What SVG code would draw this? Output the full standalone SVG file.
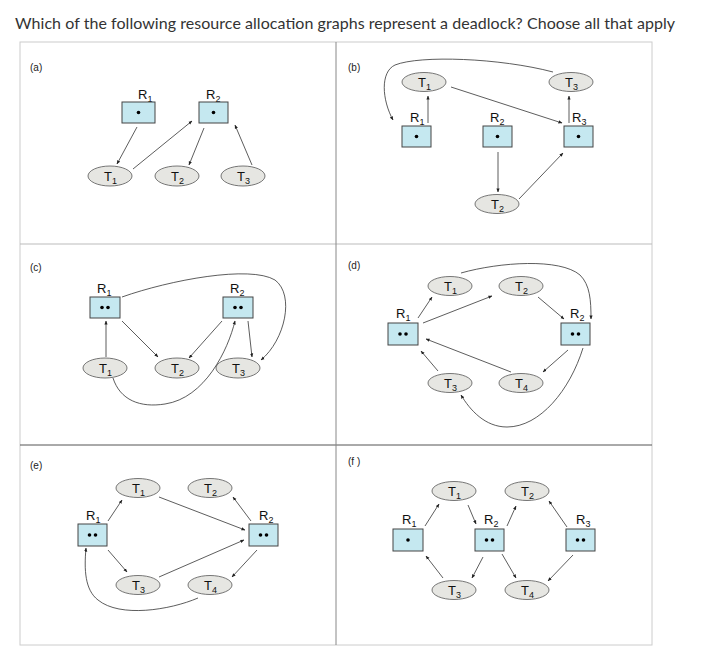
<svg xmlns="http://www.w3.org/2000/svg" width="723" height="657" viewBox="0 0 723 657">
<style>
.t{font-family:Lato,"Liberation Sans",sans-serif;fill:#333}
.p{font-family:"Liberation Sans",sans-serif;font-size:10px;fill:#222}
.l{font-family:"Liberation Sans",sans-serif;font-size:13px;fill:#111}
.s{font-size:9px}
.e{fill:#e6e6e2;stroke:#555;stroke-width:0.8}
.r{fill:#c5e8f0;stroke:#444;stroke-width:1}
.c path,.c line{fill:none;stroke:#333;stroke-width:0.8;marker-end:url(#a)}
</style>
<defs><marker id="a" viewBox="0 0 10 10" refX="9" refY="5" markerWidth="5" markerHeight="5" orient="auto"><path d="M0,1 L10,5 L0,9 z" fill="#222"/></marker></defs>
<rect width="723" height="657" fill="#fff"/>
<text class="t" x="15" y="29" font-size="16" textLength="660">Which of the following resource allocation graphs represent a deadlock?  Choose all that apply</text>
<g id="frame" fill="none">
<rect x="20" y="42" width="632" height="603" stroke="#ccc"/>
<line x1="20" y1="244" x2="652" y2="244" stroke="#bbb"/>
<line x1="20" y1="445" x2="652" y2="445" stroke="#555"/>
<line x1="336" y1="42" x2="336" y2="645" stroke="#888"/>
</g>
<g id="labels">
<text class="p" x="30" y="71">(a)</text><text class="p" x="348" y="71">(b)</text>
<text class="p" x="30" y="271">(c)</text><text class="p" x="348" y="269">(d)</text>
<text class="p" x="30" y="469">(e)</text><text class="p" x="348" y="465">(f )</text>
</g>
<!-- (a) -->
<g id="a_R1"><text class="l" x="138" y="99">R<tspan class="s" dy="3">1</tspan></text><rect class="r" x="122" y="102" width="33" height="21"/><circle cx="138.5" cy="112.5" r="1.8"/></g>
<g id="a_R2"><text class="l" x="206" y="99">R<tspan class="s" dy="3">2</tspan></text><rect class="r" x="199" y="102" width="29" height="21"/><circle cx="213.5" cy="112.5" r="1.8"/></g>
<g id="a_T1"><ellipse class="e" cx="110" cy="176" rx="22" ry="10"/><text class="l" x="104" y="181">T<tspan class="s" dy="3">1</tspan></text></g>
<g id="a_T2"><ellipse class="e" cx="177" cy="176" rx="22" ry="10"/><text class="l" x="171" y="181">T<tspan class="s" dy="3">2</tspan></text></g>
<g id="a_T3"><ellipse class="e" cx="243" cy="176" rx="22" ry="10"/><text class="l" x="237" y="181">T<tspan class="s" dy="3">3</tspan></text></g>
<!-- (b) -->
<g id="b_T1"><ellipse class="e" cx="424" cy="82" rx="22" ry="9.5"/><text class="l" x="418" y="87">T<tspan class="s" dy="3">1</tspan></text></g>
<g id="b_T3"><ellipse class="e" cx="571" cy="82" rx="22" ry="9.5"/><text class="l" x="565" y="87">T<tspan class="s" dy="3">3</tspan></text></g>
<g id="b_R1"><text class="l" x="410" y="122">R<tspan class="s" dy="3">1</tspan></text><rect class="r" x="402" y="126" width="29" height="21"/><circle cx="416.5" cy="136.5" r="1.8"/></g>
<g id="b_R2"><text class="l" x="490" y="122">R<tspan class="s" dy="3">2</tspan></text><rect class="r" x="483" y="126" width="29" height="21"/><circle cx="497.5" cy="136.5" r="1.8"/></g>
<g id="b_R3"><text class="l" x="572" y="122">R<tspan class="s" dy="3">3</tspan></text><rect class="r" x="564" y="126" width="29" height="21"/><circle cx="578.5" cy="136.5" r="1.8"/></g>
<g id="b_T2"><ellipse class="e" cx="497" cy="204" rx="22" ry="9.5"/><text class="l" x="491" y="209">T<tspan class="s" dy="3">2</tspan></text></g>
<!-- (c) -->
<g id="c_R1"><text class="l" x="97" y="293">R<tspan class="s" dy="3">1</tspan></text><rect class="r" x="90" y="297" width="30" height="21"/><circle cx="102" cy="307.5" r="1.8"/><circle cx="108" cy="307.5" r="1.8"/></g>
<g id="c_R2"><text class="l" x="230" y="293">R<tspan class="s" dy="3">2</tspan></text><rect class="r" x="223" y="297" width="30" height="21"/><circle cx="235" cy="307.5" r="1.8"/><circle cx="241" cy="307.5" r="1.8"/></g>
<g id="c_T1"><ellipse class="e" cx="105" cy="368" rx="22" ry="10"/><text class="l" x="99" y="373">T<tspan class="s" dy="3">1</tspan></text></g>
<g id="c_T2"><ellipse class="e" cx="177" cy="368" rx="22" ry="10"/><text class="l" x="171" y="373">T<tspan class="s" dy="3">2</tspan></text></g>
<g id="c_T3"><ellipse class="e" cx="238" cy="368" rx="22" ry="10"/><text class="l" x="232" y="373">T<tspan class="s" dy="3">3</tspan></text></g>
<!-- (d) -->
<g id="d_R1"><text class="l" x="396" y="318">R<tspan class="s" dy="3">1</tspan></text><rect class="r" x="388" y="323" width="30" height="22"/><circle cx="400" cy="334" r="1.8"/><circle cx="406" cy="334" r="1.8"/></g>
<g id="d_R2"><text class="l" x="570" y="318">R<tspan class="s" dy="3">2</tspan></text><rect class="r" x="561" y="323" width="29" height="22"/><circle cx="572.5" cy="334" r="1.8"/><circle cx="578.5" cy="334" r="1.8"/></g>
<g id="d_T1"><ellipse class="e" cx="450" cy="286" rx="22" ry="9.5"/><text class="l" x="444" y="291">T<tspan class="s" dy="3">1</tspan></text></g>
<g id="d_T2"><ellipse class="e" cx="521" cy="286" rx="22" ry="9.5"/><text class="l" x="515" y="291">T<tspan class="s" dy="3">2</tspan></text></g>
<g id="d_T3"><ellipse class="e" cx="450" cy="383" rx="22" ry="9.5"/><text class="l" x="444" y="388">T<tspan class="s" dy="3">3</tspan></text></g>
<g id="d_T4"><ellipse class="e" cx="521" cy="383" rx="22" ry="9.5"/><text class="l" x="515" y="388">T<tspan class="s" dy="3">4</tspan></text></g>
<!-- (e) -->
<g id="e_R1"><text class="l" x="86" y="520">R<tspan class="s" dy="3">1</tspan></text><rect class="r" x="78" y="524" width="29" height="22"/><circle cx="89.5" cy="535" r="1.8"/><circle cx="95.5" cy="535" r="1.8"/></g>
<g id="e_R2"><text class="l" x="259" y="520">R<tspan class="s" dy="3">2</tspan></text><rect class="r" x="249" y="524" width="29" height="22"/><circle cx="260.5" cy="535" r="1.8"/><circle cx="266.5" cy="535" r="1.8"/></g>
<g id="e_T1"><ellipse class="e" cx="138" cy="488" rx="22" ry="9.5"/><text class="l" x="132" y="493">T<tspan class="s" dy="3">1</tspan></text></g>
<g id="e_T2"><ellipse class="e" cx="210" cy="488" rx="22" ry="9.5"/><text class="l" x="204" y="493">T<tspan class="s" dy="3">2</tspan></text></g>
<g id="e_T3"><ellipse class="e" cx="138" cy="585" rx="22" ry="9.5"/><text class="l" x="132" y="590">T<tspan class="s" dy="3">3</tspan></text></g>
<g id="e_T4"><ellipse class="e" cx="210" cy="585" rx="22" ry="9.5"/><text class="l" x="204" y="590">T<tspan class="s" dy="3">4</tspan></text></g>
<!-- (f) -->
<g id="f_R1"><text class="l" x="402" y="524">R<tspan class="s" dy="3">1</tspan></text><rect class="r" x="393" y="529" width="30" height="22"/><circle cx="408" cy="540" r="1.8"/></g>
<g id="f_R2"><text class="l" x="484" y="524">R<tspan class="s" dy="3">2</tspan></text><rect class="r" x="475" y="529" width="29" height="22"/><circle cx="486.5" cy="540" r="1.8"/><circle cx="492.5" cy="540" r="1.8"/></g>
<g id="f_R3"><text class="l" x="576" y="524">R<tspan class="s" dy="3">3</tspan></text><rect class="r" x="566" y="529" width="29" height="22"/><circle cx="577.5" cy="540" r="1.8"/><circle cx="583.5" cy="540" r="1.8"/></g>
<g id="f_T1"><ellipse class="e" cx="454" cy="491" rx="22" ry="9.5"/><text class="l" x="448" y="496">T<tspan class="s" dy="3">1</tspan></text></g>
<g id="f_T2"><ellipse class="e" cx="527" cy="491" rx="22" ry="9.5"/><text class="l" x="521" y="496">T<tspan class="s" dy="3">2</tspan></text></g>
<g id="f_T3"><ellipse class="e" cx="454" cy="590" rx="22" ry="9.5"/><text class="l" x="448" y="595">T<tspan class="s" dy="3">3</tspan></text></g>
<g id="f_T4"><ellipse class="e" cx="527" cy="590" rx="22" ry="9.5"/><text class="l" x="521" y="595">T<tspan class="s" dy="3">4</tspan></text></g>
<g id="connectors" class="c">
<line x1="137" y1="127" x2="117" y2="164"/>
<line x1="133" y1="169" x2="192" y2="121"/>
<line x1="204" y1="128" x2="189" y2="165"/>
<line x1="252" y1="165" x2="235" y2="125"/>
<line x1="428" y1="123" x2="428" y2="96"/>
<line x1="451" y1="87" x2="562" y2="123"/>
<line x1="569" y1="123" x2="569" y2="96"/>
<line x1="498" y1="152" x2="498" y2="192"/>
<line x1="519" y1="199" x2="563" y2="153"/>
<path d="M553,72 C500,58 420,55 395,65 C380,72 382,100 393,120"/>
<line x1="106" y1="357" x2="106" y2="321"/>
<line x1="122" y1="321" x2="158" y2="357"/>
<line x1="222" y1="321" x2="189" y2="358"/>
<line x1="248" y1="321" x2="252" y2="357"/>
<path d="M122,297 C170,280 250,265 275,280 C295,295 285,340 261,360"/>
<path d="M113,378 C120,400 140,408 165,404 C205,398 228,350 235,321"/>
<line x1="418" y1="318" x2="432" y2="297"/>
<line x1="423" y1="323" x2="492" y2="296"/>
<line x1="538" y1="297" x2="564" y2="319"/>
<line x1="568" y1="350" x2="543" y2="372"/>
<line x1="511" y1="372" x2="426" y2="339"/>
<line x1="438" y1="371" x2="421" y2="351"/>
<path d="M461,273 C500,262 560,258 580,275 C590,285 591,300 591,319"/>
<path d="M583,348 C570,390 540,427 507,427 C485,427 470,410 461,395"/>
<line x1="108" y1="521" x2="122" y2="500"/>
<line x1="159" y1="497" x2="245" y2="530"/>
<line x1="251" y1="521" x2="233" y2="497"/>
<line x1="108" y1="550" x2="127" y2="572"/>
<line x1="159" y1="577" x2="244" y2="540"/>
<line x1="257" y1="550" x2="232" y2="577"/>
<path d="M198,598 C170,610 120,618 98,600 C85,590 84,570 86,548"/>
<line x1="425" y1="526" x2="439" y2="504"/>
<line x1="468" y1="505" x2="476" y2="524"/>
<line x1="507" y1="526" x2="516" y2="506"/>
<line x1="567" y1="527" x2="549" y2="501"/>
<line x1="483" y1="557" x2="472" y2="578"/>
<line x1="502" y1="554" x2="516" y2="578"/>
<line x1="573" y1="555" x2="548" y2="581"/>
<line x1="443" y1="578" x2="426" y2="556"/>
</g>
</svg>
